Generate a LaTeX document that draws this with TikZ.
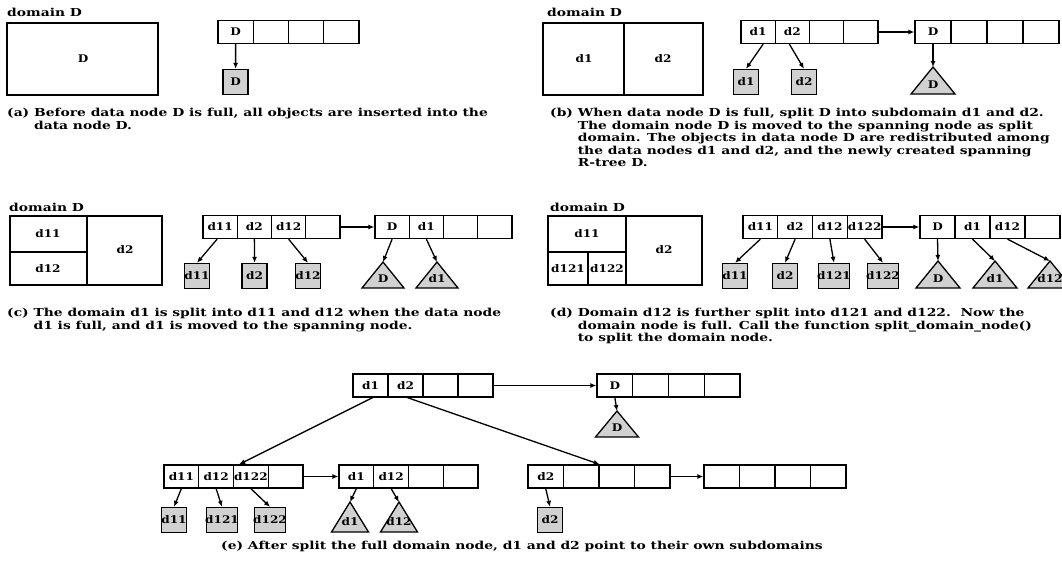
\documentclass[tikz,border=0pt]{standalone}
\usepackage{fontspec}
\setmainfont{DejaVu Serif}[FakeStretch=1.26]
\newfontfamily\lblfam{DejaVu Serif}[FakeStretch=1.15]
\usetikzlibrary{arrows.meta}

\newcommand{\lblfont}{\lblfam\fontsize{10.5}{12}\selectfont\bfseries}
\newcommand{\capfont}{\fontsize{11}{12.5}\selectfont\bfseries}

% a row of four pointer cells: name, left x, centre y, cell width, labels
\newcommand{\cellrow}[5]{%
  \foreach \t [count=\i] in {#5}
    \node[ptrcell, minimum width=#4pt] (#1-\i) at ({#2+(\i-0.5)*#4}, #3) {\t};}

% a spanning R-tree triangle: name, apex, half width, height, label
\newcommand{\spantri}[5]{%
  \coordinate (#1) at (#2);
  \draw[trishape] (#1) -- ++(-#3,#4) -- ++(2*#3,0) -- cycle;
  \node[lbl] (#1-txt) at ([yshift=-0.65*#4 pt]#1) {#5};}

\begin{document}
\begin{tikzpicture}[x=1pt, y=-1pt,
  ptrcell/.style={rectangle, draw=black, line width=1.3pt, minimum height=23pt,
    inner sep=0pt, font=\lblfont},
  databox/.style={rectangle, draw=black, line width=1.3pt, fill=black!18,
    minimum width=25pt, minimum height=25pt, inner xsep=-1pt, inner ysep=1pt,
    font=\lblfont},
  trishape/.style={draw=black, line width=1.3pt, fill=black!18, line join=miter},
  frameline/.style={draw=black, line width=1.3pt},
  lbl/.style={inner sep=0pt, font=\lblfont},
  domlabel/.style={anchor=west, inner sep=0pt, font=\capfont},
  captext/.style={anchor=north west, align=left, inner sep=0pt, font=\capfont},
  arrow/.style={-{Latex[length=6pt, width=5pt]}, line width=1.3pt}
]
\useasboundingbox (0,0) rectangle (1062,562);

% (a)
\node[domlabel] (aDom) at (7,12) {domain D};
\draw[frameline] (7,23) rectangle (158,95);
\node[lbl] (aD) at (83,59) {D};
\cellrow{aArr}{218}{32}{35.25}{D,{},{},{}}
\node[databox] (aData) at (235.6,82) {D};
\draw[arrow] (aArr-1.south) -- (aData.north);
\node[captext] (aCap) at (7,108) {(a) Before data node D is full, all objects are inserted into the\\
  \phantom{(a)}\ data node D.};

% (b)
\node[domlabel] (bDom) at (547,12) {domain D};
\draw[frameline] (543,23) rectangle (703,95);
\draw[frameline] (624,23) -- (624,95);
\node[lbl] (bD1) at (584,59) {d1};
\node[lbl] (bD2) at (663,59) {d2};
\cellrow{bArr}{741}{32}{34.25}{d1,d2,{},{}}
\cellrow{bSpan}{915}{32}{36}{D,{},{},{}}
\draw[arrow] (bArr-4.east) -- (bSpan-1.west);
\node[databox] (bData1) at (746,82) {d1};
\node[databox] (bData2) at (804,82) {d2};
\draw[arrow] ([xshift=5pt]bArr-1.south) -- (bData1.north);
\draw[arrow] ([xshift=-3pt]bArr-2.south) -- (bData2.north);
\spantri{bTri}{933,67}{22}{27}{D}
\draw[arrow] (bSpan-1.south) -- (bTri);
\node[captext] (bCap) at (550,108) {(b) When data node D is full, split D into subdomain d1 and d2.\\
  \phantom{(b)}\ The domain node D is moved to the spanning node as split\\
  \phantom{(b)}\ domain. The objects in data node D are redistributed among\\
  \phantom{(b)}\ the data nodes d1 and d2, and the newly created spanning\\
  \phantom{(b)}\ R-tree D.};

% (c)
\node[domlabel] (cDom) at (9,207) {domain D};
\draw[frameline] (10,216) rectangle (162,285);
\draw[frameline] (87,216) -- (87,285);
\draw[frameline] (10,252) -- (87,252);
\node[lbl] (cD11) at (48,234) {d11};
\node[lbl] (cD12) at (48,269) {d12};
\node[lbl] (cD2) at (125,250) {d2};
\cellrow{cArr}{203}{227}{34.25}{d11,d2,d12,{}}
\cellrow{cSpan}{375}{227}{34.25}{D,d1,{},{}}
\draw[arrow] (cArr-4.east) -- (cSpan-1.west);
\node[databox] (cData1) at (197,276) {d11};
\node[databox] (cData2) at (254.6,276) {d2};
\node[databox] (cData3) at (308,276) {d12};
\draw[arrow] ([xshift=-3pt]cArr-1.south) -- (cData1.north);
\draw[arrow] (cArr-2.south) -- (cData2.north);
\draw[arrow] (cArr-3.south) -- (cData3.north);
\spantri{cTri1}{383,262}{21}{26}{D}
\spantri{cTri2}{437,262}{21}{26}{d1}
\draw[arrow] (cSpan-1.south) -- (cTri1);
\draw[arrow] (cSpan-2.south) -- (cTri2);
\node[captext] (cCap) at (7,308) {(c) The domain d1 is split into d11 and d12 when the data node\\
  \phantom{(c)}\ d1 is full, and d1 is moved to the spanning node.};

% (d)
\node[domlabel] (dDom) at (550,207) {domain D};
\draw[frameline] (548,216) rectangle (702,285);
\draw[frameline] (626,216) -- (626,285);
\draw[frameline] (548,252) -- (626,252);
\draw[frameline] (588,252) -- (588,285);
\node[lbl] (dD11) at (587,234) {d11};
\node[lbl] (dD2) at (664,250) {d2};
\node[lbl] (dD121) at (568,269) {d121};
\node[lbl] (dD122) at (607,269) {d122};
\cellrow{dArr}{743}{227}{34.75}{d11,d2,d12,d122}
\cellrow{dSpan}{920}{227}{35}{D,d1,d12,{}}
\draw[arrow] (dArr-4.east) -- (dSpan-1.west);
\node[databox] (dData1) at (735,276) {d11};
\node[databox] (dData2) at (785,276) {d2};
\node[databox] (dData3) at (834,276) {d121};
\node[databox] (dData4) at (883,276) {d122};
\draw[arrow] (dArr-1.south) -- (dData1.north);
\draw[arrow] (dArr-2.south) -- (dData2.north);
\draw[arrow] (dArr-3.south) -- (dData3.north);
\draw[arrow] (dArr-4.south) -- (dData4.north);
\spantri{dTri1}{938,261}{22}{27}{D}
\spantri{dTri2}{995,261}{22}{27}{d1}
\spantri{dTri3}{1050,261}{22}{27}{d12}
\draw[arrow] (dSpan-1.south) -- (dTri1);
\draw[arrow] (dSpan-2.south) -- (dTri2);
\draw[arrow] (dSpan-3.south) -- (dTri3);
\node[captext] (dCap) at (550,308) {(d) Domain d12 is further split into d121 and d122.\ \ Now the\\
  \phantom{(d)}\ domain node is full. Call the function split\_domain\_node()\\
  \phantom{(d)}\ to split the domain node.};

% (e)
\cellrow{eRoot}{353}{385.5}{35}{d1,d2,{},{}}
\cellrow{eSpan}{597}{385.5}{35.75}{D,{},{},{}}
\draw[arrow] (eRoot-4.east) -- (eSpan-1.west);
\spantri{eTri}{617,411}{21.5}{26}{D}
\draw[arrow] (eSpan-1.south) -- (eTri);
\cellrow{eLeft}{164}{476.5}{34.75}{d11,d12,d122,{}}
\cellrow{eMid}{339}{476.5}{34.75}{d1,d12,{},{}}
\cellrow{eRight}{528}{476.5}{35.5}{d2,{},{},{}}
\cellrow{eNext}{704}{476.5}{35.5}{{},{},{},{}}
\draw[arrow] (eLeft-4.east) -- (eMid-1.west);
\draw[arrow] (eRight-4.east) -- (eNext-1.west);
\draw[arrow] ([xshift=2pt]eRoot-1.south) -- ([xshift=5pt]eLeft-2.north east);
\draw[arrow] ([xshift=2pt]eRoot-2.south) -- (eRight-2.north east);
\node[databox] (eData1) at (174,520) {d11};
\node[databox] (eData2) at (222,520) {d121};
\node[databox] (eData3) at (270,520) {d122};
\node[databox] (eData4) at (550,520) {d2};
\draw[arrow] (eLeft-1.south) -- (eData1.north);
\draw[arrow] (eLeft-2.south) -- (eData2.north);
\draw[arrow] (eLeft-3.south) -- (eData3.north);
\draw[arrow] (eRight-1.south) -- (eData4.north);
\spantri{eTri1}{350,502}{18.5}{30}{d1}
\spantri{eTri2}{399,502}{18.5}{30}{d12}
\draw[arrow] (eMid-1.south) -- (eTri1);
\draw[arrow] (eMid-2.south) -- (eTri2);
\node[font=\capfont, inner sep=0pt] (eCap) at (522,546) {(e) After split the full domain node, d1 and d2 point to their own subdomains};
\end{tikzpicture}
\end{document}
